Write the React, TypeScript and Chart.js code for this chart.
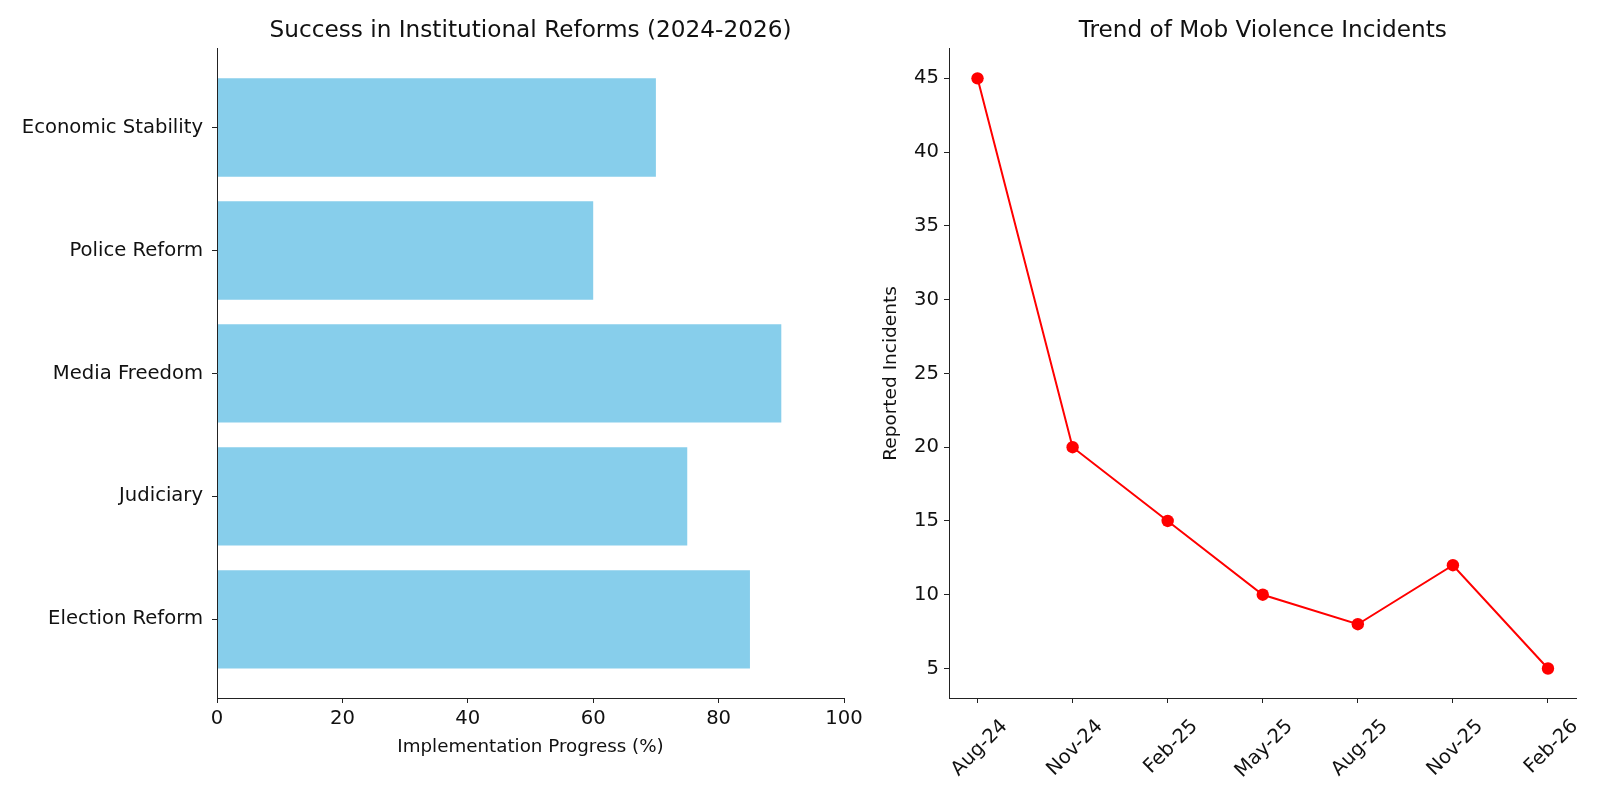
import React, { useEffect, useRef } from "react";
import { Chart, registerables } from "chart.js";

Chart.register(...registerables);

const reformCategories = ["Economic Stability", "Police Reform", "Media Freedom", "Judiciary", "Election Reform"];
const reformProgress = [70, 60, 90, 75, 85];
const progressTicks = [0, 20, 40, 60, 80, 100];

const incidentMonths = ["Aug-24", "Nov-24", "Feb-25", "May-25", "Aug-25", "Nov-25", "Feb-26"];
const incidentCounts = [45, 20, 15, 10, 8, 12, 5];
const incidentTicks = [5, 10, 15, 20, 25, 30, 35, 40, 45];

const FONT = "'DejaVu Sans', 'Open Sans', sans-serif";
const AXIS = "#222222";
const TICK = 19.6;
const TITLE = 23.2;
const LABEL = 18.3;

export default function App() {
  const leftRef = useRef<HTMLCanvasElement>(null);
  const rightRef = useRef<HTMLCanvasElement>(null);

  useEffect(() => {
    Chart.defaults.font.family = FONT;
    Chart.defaults.color = "#111";

    const left = new Chart(leftRef.current!, {
      type: "bar",
      data: {
        datasets: [
          {
            data: reformProgress.map((v, i) => ({ x: v, y: i })),
            backgroundColor: "#87CEEB",
            borderWidth: 0,
            categoryPercentage: 1,
            barPercentage: 0.8,
          } as any,
        ],
      },
      options: {
        animation: false,
        responsive: false,
        indexAxis: "y",
        layout: { padding: { left: 0, right: 36, top: 0, bottom: 38 } },
        plugins: {
          legend: { display: false },
          tooltip: { enabled: false },
          title: {
            display: true,
            text: "Success in Institutional Reforms (2024-2026)",
            fullSize: false,
            font: { size: TITLE, weight: "normal" },
            color: "#111",
            padding: { top: 17, bottom: 4 },
          } as any,
        },
        scales: {
          x: {
            type: "linear",
            min: 0,
            max: 100,
            afterBuildTicks: (s: any) => {
              s.ticks = progressTicks.map((v) => ({ value: v }));
            },
            afterFit: (s: any) => {
              s.height = 64;
            },
            ticks: { font: { size: TICK }, padding: 4, color: "#111" },
            grid: { display: true, drawOnChartArea: false, drawTicks: true, tickLength: 5, color: AXIS },
            border: { display: true, color: AXIS, width: 1, z: 1 },
            title: {
              display: true,
              text: "Implementation Progress (%)",
              font: { size: LABEL },
              color: "#111",
              padding: { top: 4, bottom: 4 },
            },
          },
          y: {
            type: "linear",
            min: -0.64,
            max: 4.64,
            reverse: true,
            offset: false,
            afterBuildTicks: (s: any) => {
              s.ticks = reformCategories.map((_, i) => ({ value: i }));
            },
            afterFit: (s: any) => {
              s.width = 217;
            },
            ticks: {
              font: { size: TICK },
              padding: 9,
              color: "#111",
              callback: (v: any) => reformCategories[Number(v)] ?? "",
            },
            grid: { display: true, offset: false, drawOnChartArea: false, drawTicks: true, tickLength: 5, color: AXIS },
            border: { display: true, color: AXIS, width: 1, z: 1 },
          },
        },
      } as any,
    });

    const right = new Chart(rightRef.current!, {
      type: "line",
      data: {
        datasets: [
          {
            data: incidentCounts.map((v, i) => ({ x: i, y: v })),
            borderColor: "#ff0000",
            backgroundColor: "#ff0000",
            borderWidth: 2,
            pointRadius: 6.2,
            pointBackgroundColor: "#ff0000",
            pointBorderWidth: 0,
            tension: 0,
          },
        ],
      },
      options: {
        animation: false,
        responsive: false,
        layout: { padding: { left: 0, right: 23.5, top: 0, bottom: 0 } },
        plugins: {
          legend: { display: false },
          tooltip: { enabled: false },
          title: {
            display: true,
            text: "Trend of Mob Violence Incidents",
            fullSize: false,
            font: { size: TITLE, weight: "normal" },
            color: "#111",
            padding: { top: 17, bottom: 4 },
          } as any,
        },
        scales: {
          x: {
            type: "linear",
            min: -0.3,
            max: 6.3,
            afterBuildTicks: (s: any) => {
              s.ticks = incidentMonths.map((_, i) => ({ value: i }));
            },
            afterFit: (s: any) => {
              s.height = 102;
              s.paddingLeft = 0;
              s.paddingRight = 0;
            },
            ticks: {
              font: { size: TICK },
              padding: 12,
              labelOffset: 27,
              color: "#111",
              minRotation: 45,
              maxRotation: 45,
              autoSkip: false,
              callback: (v: any) => incidentMonths[Number(v)] ?? "",
            },
            grid: { display: true, drawOnChartArea: false, drawTicks: true, tickLength: 5, color: AXIS },
            border: { display: true, color: AXIS, width: 1 },
          },
          y: {
            type: "linear",
            min: 3,
            max: 47,
            afterBuildTicks: (s: any) => {
              s.ticks = incidentTicks.map((v) => ({ value: v }));
            },
            afterFit: (s: any) => {
              s.width = 69;
            },
            ticks: { font: { size: TICK }, padding: 5, color: "#111" },
            grid: { display: true, drawOnChartArea: false, drawTicks: true, tickLength: 5, color: AXIS },
            border: { display: true, color: AXIS, width: 1 },
            title: {
              display: true,
              text: "Reported Incidents",
              font: { size: 18.5 },
              color: "#111",
              padding: { top: 0, bottom: 4 },
            },
          },
        },
      } as any,
    });

    return () => {
      left.destroy();
      right.destroy();
    };
  }, []);

  return (
    <div style={{ position: "absolute", left: 0, top: 0, width: 1600, height: 800, background: "#fff" }}>
      <canvas ref={leftRef} width={880} height={800} style={{ position: "absolute", left: 0, top: 0, width: 880, height: 800 }} />
      <canvas ref={rightRef} width={720} height={800} style={{ position: "absolute", left: 880, top: 0, width: 720, height: 800 }} />
    </div>
  );
}
